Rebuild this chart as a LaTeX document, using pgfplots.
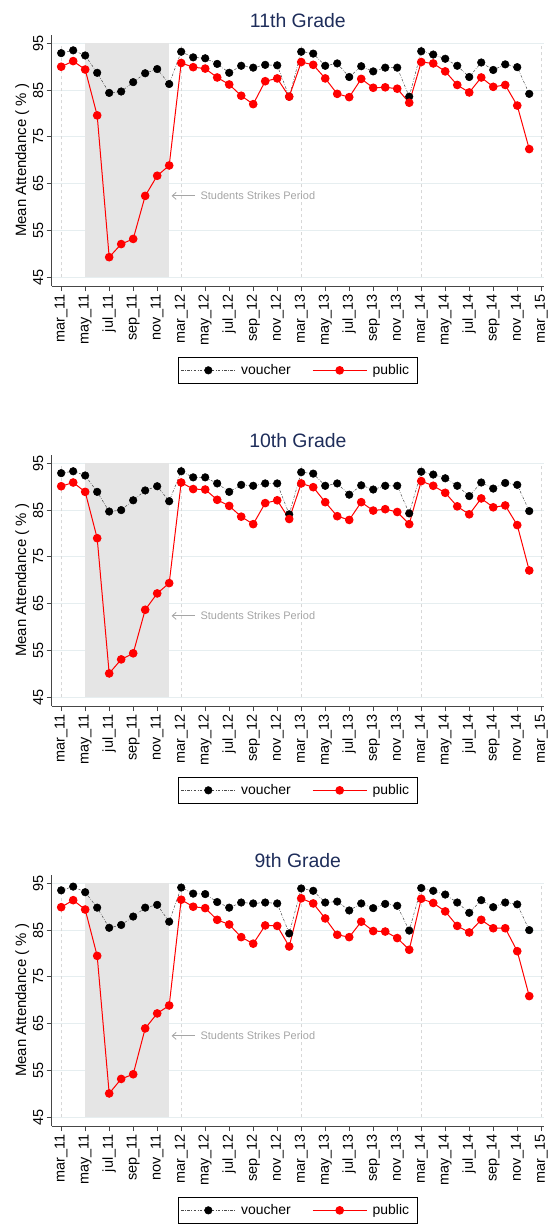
\documentclass[border=0pt]{standalone}
\usepackage{fontspec}
\setmainfont{Liberation Sans}
\usepackage{pgfplots}
\pgfplotsset{compat=1.18}
\usepackage{pgfplotstable}
\usetikzlibrary{arrows.meta}

\definecolor{titlenavy}{RGB}{30,45,90}
\definecolor{gridc}{RGB}{230,238,240}
\definecolor{shadec}{RGB}{229,229,229}
\definecolor{annot}{RGB}{165,165,165}
\definecolor{axisc}{RGB}{70,70,70}
\definecolor{vline}{RGB}{215,215,215}

% idx: mar_11=0 ... dec_11=9, mar_12=10 ... dec_14=39 (school months only)
\pgfplotstableread{
idx v p
0 92.9 90.0
1 93.5 91.2
2 92.4 89.4
3 88.7 79.6
4 84.4 49.3
5 84.7 52.1
6 86.7 53.2
7 88.6 62.4
8 89.5 66.7
9 86.3 68.9
10 93.2 90.8
11 92.0 89.9
12 91.8 89.6
13 90.6 87.7
14 88.7 86.2
15 90.2 83.8
16 89.8 82.0
17 90.4 86.9
18 90.3 87.5
19 83.6 83.6
20 93.2 91.0
21 92.8 90.4
22 90.2 87.5
23 90.7 84.2
24 87.8 83.5
25 90.1 87.4
26 89.0 85.5
27 89.8 85.6
28 89.8 85.3
29 83.6 82.3
30 93.3 91.0
31 92.6 90.7
32 91.7 89.0
33 90.2 86.1
34 87.8 84.5
35 90.9 87.7
36 89.3 85.7
37 90.5 86.1
38 89.9 81.7
39 84.2 72.4
}\tabEleven

\pgfplotstableread{
idx v p
0 92.9 90.1
1 93.3 90.9
2 92.4 88.9
3 88.9 79.0
4 84.7 50.1
5 85.0 53.1
6 87.1 54.4
7 89.2 63.7
8 90.1 67.2
9 86.9 69.4
10 93.3 90.9
11 92.0 89.5
12 92.0 89.4
13 90.7 87.2
14 88.9 85.9
15 90.4 83.6
16 90.2 82.0
17 90.7 86.5
18 90.7 87.1
19 84.1 83.1
20 93.1 90.7
21 92.8 89.9
22 90.2 86.7
23 90.7 83.7
24 88.3 82.9
25 90.3 86.7
26 89.4 84.9
27 90.2 85.2
28 90.2 84.6
29 84.3 82.0
30 93.2 91.2
31 92.6 90.2
32 91.8 88.7
33 90.2 85.8
34 88.0 84.1
35 90.9 87.5
36 89.6 85.6
37 90.8 86.0
38 90.4 81.8
39 84.8 72.1
}\tabTenth

\pgfplotstableread{
idx v p
0 93.5 89.9
1 94.3 91.4
2 93.1 89.4
3 89.8 79.5
4 85.5 50.1
5 86.1 53.2
6 87.9 54.2
7 89.8 64.0
8 90.4 67.2
9 86.8 68.9
10 94.1 91.5
11 92.8 90.0
12 92.7 89.7
13 91.0 87.2
14 89.8 86.2
15 90.9 83.5
16 90.7 82.1
17 90.9 86.0
18 90.7 85.9
19 84.3 81.5
20 93.9 91.8
21 93.4 90.7
22 90.9 87.5
23 91.1 84.0
24 89.2 83.5
25 90.7 86.8
26 89.7 84.8
27 90.6 84.7
28 90.2 83.3
29 84.9 80.8
30 94.0 91.7
31 93.4 90.8
32 92.6 89.0
33 90.9 85.9
34 88.7 84.5
35 91.4 87.2
36 89.9 85.4
37 90.9 85.4
38 90.5 80.5
39 85.0 70.9
}\tabNinth

\tikzset{
  vl/.style={vline, line width=0.7bp, dash pattern=on 3bp off 3bp},
  vouch/.style={black!70, line width=0.5bp, dash pattern=on 2.5bp off 1.5bp on 0.6bp off 1.5bp,
    mark=*, mark size=3.8bp, mark options={solid, fill=black, draw=black}},
  publ/.style={red, line width=1bp, mark=*, mark size=3.8bp, mark options={solid, fill=red, draw=red}},
}

\pgfplotsset{
  panel/.style={
    scale only axis, width=492.3bp, height=251.3bp,
    xmin=-0.79, xmax=40.23, ymin=43.14, ymax=96.84,
    axis x line*=bottom, axis y line*=left,
    axis line style={axisc, line width=0.9bp},
    tick style={axisc, line width=0.9bp},
    tick align=outside, major tick length=5bp,
    xtick={0,2,...,40},
    xticklabels={mar\_11,may\_11,jul\_11,sep\_11,nov\_11,mar\_12,may\_12,jul\_12,sep\_12,nov\_12,mar\_13,may\_13,jul\_13,sep\_13,nov\_13,mar\_14,may\_14,jul\_14,sep\_14,nov\_14,mar\_15},
    xticklabel style={rotate=90, anchor=east, font=\fontsize{14.5}{16}\selectfont},
    ytick={45,55,...,95},
    yticklabel style={rotate=90, anchor=south, font=\fontsize{14.5}{16}\selectfont},
    /pgf/number format/assume math mode=true,
    ymajorgrids, grid style={gridc, line width=1bp},
    ylabel={Mean Attendance ( \% )},
    ylabel style={at={(axis description cs:-0.0522,0.5)}, anchor=base, font=\fontsize{15}{17}\selectfont},
    title style={at={(axis description cs:0.5,1.0294)}, anchor=base, yshift=-6pt, font=\fontsize{19.5}{22}\selectfont, text=titlenavy},
    legend style={at={(axis description cs:0.5,-0.2810)}, anchor=north, draw=black, line width=0.8bp,
      font=\fontsize{14}{16}\selectfont, inner xsep=2.5bp, inner ysep=2.2bp,
      nodes={inner xsep=5.5bp, inner ysep=5.3bp},
      /tikz/every even column/.append style={column sep=16bp}},
    legend columns=2,
    legend image code/.code={\draw[mark repeat=2,mark phase=2,#1] plot coordinates {(0bp,0bp) (27bp,0bp) (54bp,0bp)};},
  },
}

\newcommand{\decor}{%
  \fill[shadec] (axis cs:2,45) rectangle (axis cs:9,95);
  \draw[vl] (axis cs:0,45) -- (axis cs:0,95);
  \draw[vl] (axis cs:10,45) -- (axis cs:10,95);
  \draw[vl] (axis cs:20,45) -- (axis cs:20,95);
  \draw[vl] (axis cs:30,45) -- (axis cs:30,95);
  \draw[vl] (axis cs:40,45) -- (axis cs:40,95);
  \draw[annot, line width=0.8bp, -{Straight Barb[length=4bp,width=7bp]}] (axis cs:11.17,62.4) -- (axis cs:9.2,62.4);
  \node[annot, anchor=west, inner sep=0pt, font=\fontsize{11}{13}\selectfont] at (axis cs:11.6,62.4) {Students Strikes Period};
}

\begin{document}
\begin{tikzpicture}
\useasboundingbox (0,0) rectangle (549bp,-1225bp);

\begin{axis}[panel, at={(51.7bp,-286bp)}, anchor=south west, title={11th Grade}]
\decor
\addplot[vouch] table[x=idx,y=v] {\tabEleven};
\addlegendentry{voucher}
\addplot[publ] table[x=idx,y=p] {\tabEleven};
\addlegendentry{public}
\end{axis}

\begin{axis}[panel, at={(51.7bp,-706bp)}, anchor=south west, title={10th Grade}]
\decor
\addplot[vouch] table[x=idx,y=v] {\tabTenth};
\addlegendentry{voucher}
\addplot[publ] table[x=idx,y=p] {\tabTenth};
\addlegendentry{public}
\end{axis}

\begin{axis}[panel, at={(51.7bp,-1126bp)}, anchor=south west, title={9th Grade}]
\decor
\addplot[vouch] table[x=idx,y=v] {\tabNinth};
\addlegendentry{voucher}
\addplot[publ] table[x=idx,y=p] {\tabNinth};
\addlegendentry{public}
\end{axis}
\end{tikzpicture}
\end{document}
